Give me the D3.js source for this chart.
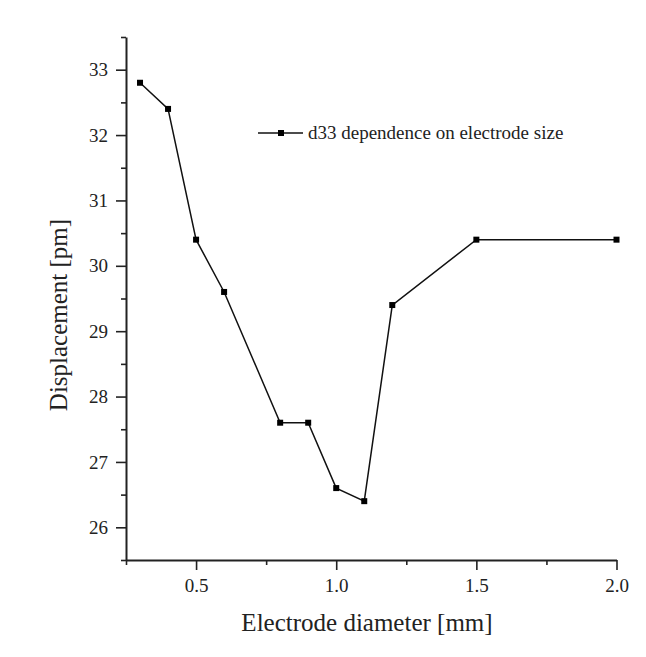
<!DOCTYPE html>
<html><head><meta charset="utf-8">
<script src="https://cdn.jsdelivr.net/npm/d3@7/dist/d3.min.js"></script>
<style>body{margin:0;background:#fff;} svg text{font-family:"Liberation Serif","Times New Roman",serif !important;}</style>
</head><body>
<svg id="c" width="646" height="657"></svg>
<script>
const xValues = [0.3, 0.4, 0.5, 0.6, 0.8, 0.9, 1.0, 1.1, 1.2, 1.5, 2.0];
const yValues = [32.8, 32.4, 30.4, 29.6, 27.6, 27.6, 26.6, 26.4, 29.4, 30.4, 30.4];
const xTicks = [0.5, 1.0, 1.5, 2.0];
const xMinor = [0.25, 0.75, 1.25, 1.75];
const yTicks = [26, 27, 28, 29, 30, 31, 32, 33];
const yMinor = [25.5, 26.5, 27.5, 28.5, 29.5, 30.5, 31.5, 32.5, 33.5];
const seriesName = "d33 dependence on electrode size";

const svg = d3.select("#c");
const L = 126, R = 616.5, T = 37, B = 560;
const x = d3.scaleLinear().domain([0.25, 2.0]).range([L, R]);
const y = d3.scaleLinear().domain([25.5, 33.5]).range([B, T]);

const xa = svg.append("g").attr("transform", `translate(0,${B})`)
  .call(d3.axisBottom(x).tickValues(xTicks).tickFormat(d3.format(".1f")).tickSize(10).tickPadding(9).tickSizeOuter(0));
const xm = svg.append("g").attr("transform", `translate(0,${B})`)
  .call(d3.axisBottom(x).tickValues(xMinor).tickFormat("").tickSize(5).tickSizeOuter(0));
const ya = svg.append("g").attr("transform", `translate(${L},0)`)
  .call(d3.axisLeft(y).tickValues(yTicks).tickFormat(d3.format("d")).tickSize(10).tickPadding(8).tickSizeOuter(0));
const ym = svg.append("g").attr("transform", `translate(${L},0)`)
  .call(d3.axisLeft(y).tickValues(yMinor).tickFormat("").tickSize(5).tickSizeOuter(0));
[xa, xm, ya, ym].forEach(g => {
  g.attr("font-family", '"Liberation Serif",serif').attr("font-size", 19);
  g.selectAll("path").attr("stroke", "#222").attr("stroke-width", 2);
  g.selectAll("line").attr("stroke", "#222").attr("stroke-width", 1.6);
  g.selectAll("text").attr("fill", "#222");
});
xm.select("path").remove(); ym.select("path").remove();

const data = xValues.map((v, i) => [v, yValues[i]]);
svg.append("path").datum(data)
  .attr("d", d3.line().x(d => x(d[0])).y(d => y(d[1])))
  .attr("fill", "none").attr("stroke", "#111").attr("stroke-width", 1.5);
svg.selectAll("rect.m").data(data).join("rect").attr("class", "m")
  .attr("x", d => x(d[0]) - 3).attr("y", d => y(d[1]) - 3)
  .attr("width", 6).attr("height", 6).attr("fill", "#000");

// legend
const lg = svg.append("g").attr("transform", "translate(258,133)");
lg.append("line").attr("x1", 0).attr("x2", 45).attr("y1", 0).attr("y2", 0).attr("stroke", "#111").attr("stroke-width", 1.5);
lg.append("rect").attr("x", 20).attr("y", -3).attr("width", 6).attr("height", 6).attr("fill", "#000");
lg.append("text").attr("x", 50).attr("y", 6).attr("font-size", 19).attr("fill", "#222").text(seriesName);

svg.append("text").attr("x", 367).attr("y", 631).attr("text-anchor", "middle")
  .attr("font-size", 25).attr("fill", "#222").text("Electrode diameter [mm]");
svg.append("text").attr("transform", "translate(67,315) rotate(-90)").attr("text-anchor", "middle")
  .attr("font-size", 25).attr("fill", "#222").text("Displacement [pm]");
</script>
</body></html>
